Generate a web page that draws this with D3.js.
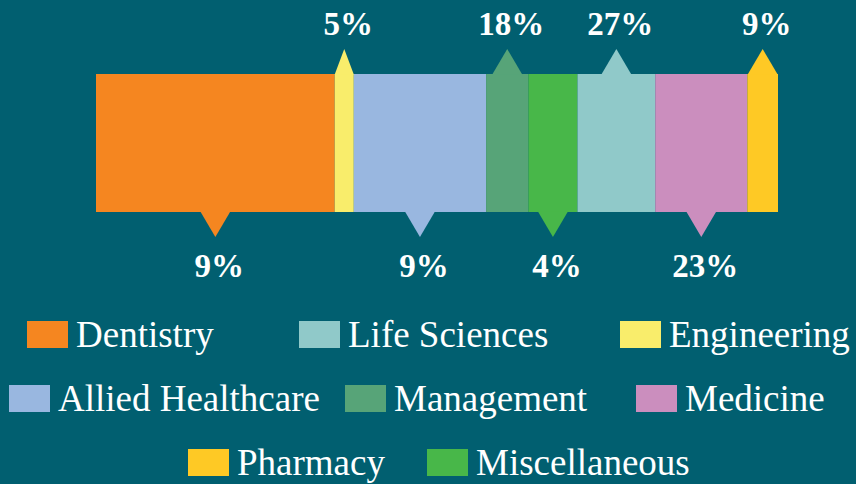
<!DOCTYPE html>
<html>
<head>
<meta charset="utf-8">
<script src="https://cdn.jsdelivr.net/npm/d3@7"></script>
<style>
  html, body { margin: 0; padding: 0; background: #015f70; }
  svg { display: block; }
</style>
</head>
<body>
<svg id="chart" width="856" height="484"></svg>
<script>
// ---- data ----
const categories = ["Dentistry", "Engineering", "Allied Healthcare", "Management", "Miscellaneous", "Life Sciences", "Medicine", "Pharmacy"];
const shares = [35.0, 2.8, 19.4, 6.2, 7.2, 11.4, 13.5, 4.5];
const percentLabels = ["9%", "5%", "9%", "18%", "4%", "27%", "23%", "9%"];
const colors = ["#f58620", "#f9ed6b", "#99b7e0", "#57a478", "#48b749", "#90c9c9", "#cb8ebe", "#fec925"];
const legendRows = [
  ["Dentistry", "Life Sciences", "Engineering"],
  ["Allied Healthcare", "Management", "Medicine"],
  ["Pharmacy", "Miscellaneous"]
];

// ---- layout ----
const W = 856, H = 484;
const barTop = 74, barBottom = 212;
const fontFamily = "'Palatino Linotype', 'Book Antiqua', Palatino, 'Liberation Serif', serif";
const legendSwatchX = [[27, 299, 620], [9, 345, 636], [188, 427]];
const legendRowY = [321, 385, 449];

const svg = d3.select("#chart");
svg.append("rect").attr("width", W).attr("height", H).attr("fill", "#015f70");

const total = d3.sum(shares);
const x = d3.scaleLinear().domain([0, total]).range([96, 778]);
const color = d3.scaleOrdinal().domain(categories).range(colors);

const cum = d3.cumsum(shares);
const segs = categories.map((c, i) => ({
  name: c, value: shares[i], start: cum[i] - shares[i], end: cum[i],
  label: percentLabels[i], up: i % 2 === 1
}));

const g = svg.append("g");
g.selectAll("rect.seg").data(segs).join("rect")
  .attr("class", "seg")
  .attr("x", d => x(d.start))
  .attr("y", barTop)
  .attr("width", d => x(d.end) - x(d.start))
  .attr("height", barBottom - barTop)
  .attr("fill", d => color(d.name));

const triW = 30, triH = 25;
g.selectAll("path.tri").data(segs).join("path")
  .attr("class", "tri")
  .attr("fill", d => color(d.name))
  .attr("d", d => {
    const x0 = x(d.start), x1 = x(d.end);
    const cx = (x0 + x1) / 2;
    const hw = Math.min(triW, x1 - x0) / 2;
    if (d.up) {
      return `M${cx - hw},${barTop + 0.5}L${cx},${barTop - triH}L${cx + hw},${barTop + 0.5}Z`;
    }
    return `M${cx - hw},${barBottom - 0.5}L${cx},${barBottom + triH}L${cx + hw},${barBottom - 0.5}Z`;
  });

g.selectAll("text.pct").data(segs).join("text")
  .attr("class", "pct")
  .attr("x", d => (x(d.start) + x(d.end)) / 2 + 4)
  .attr("y", d => d.up ? 35 : 277)
  .attr("text-anchor", "middle")
  .attr("fill", "#ffffff")
  .attr("font-family", fontFamily)
  .attr("font-weight", "bold")
  .attr("font-size", 33)
  .text(d => d.label);

// ---- legend ----
const legend = svg.append("g");
legendRows.forEach((row, r) => {
  row.forEach((name, k) => {
    const lx = legendSwatchX[r][k];
    const ly = legendRowY[r];
    const item = legend.append("g");
    item.append("rect")
      .attr("x", lx).attr("y", ly)
      .attr("width", 41).attr("height", 27)
      .attr("fill", color(name));
    item.append("text")
      .attr("x", lx + 49).attr("y", ly + 26)
      .attr("fill", "#ffffff")
      .attr("font-family", fontFamily)
      .attr("font-size", 37)
      .text(name);
  });
});
</script>
</body>
</html>
